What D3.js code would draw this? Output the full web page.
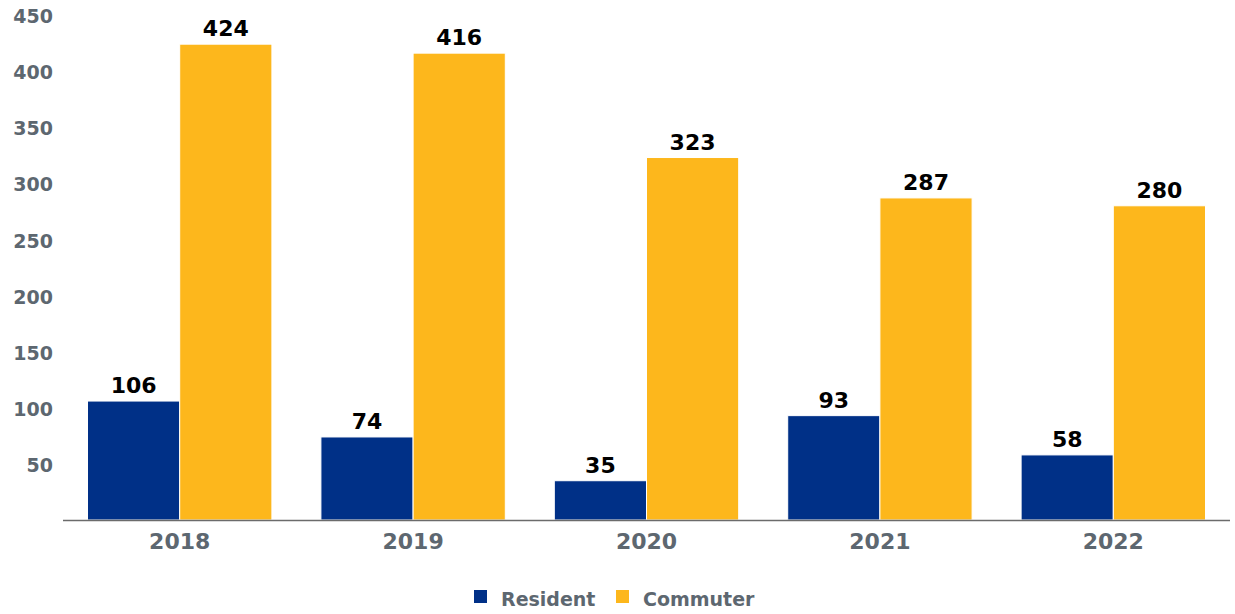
<!DOCTYPE html>
<html><head><meta charset="utf-8">
<script src="https://cdn.jsdelivr.net/npm/d3@7"></script>
<style>body{margin:0;background:#fff}svg{display:block}text{font-family:"DejaVu Sans",sans-serif;font-weight:bold}</style>
</head><body><svg id="c" width="1235" height="614"></svg>
<script>
const years = ["2018","2019","2020","2021","2022"];
const seriesNames = ["Resident","Commuter"];
const resident = [106,74,35,93,58];
const commuter = [424,416,323,287,280];
const yTicks = [50,100,150,200,250,300,350,400,450];
const colors = ["#003087","#FDB71C"];

const svg = d3.select("#c");
const plotLeft = 63, plotRight = 1230, plotTop = 15, base = 520;
const x0 = d3.scaleBand().domain(years).range([plotLeft,plotRight]).paddingInner(0.21).paddingOuter(0.105);
const x1 = d3.scaleBand().domain(seriesNames).range([0,x0.bandwidth()]);
const y = d3.scaleLinear().domain([0,450]).range([base,plotTop]);
const data = years.map((yr,i)=>({year:yr, vals:[resident[i],commuter[i]]}));

// y tick labels
svg.append("g").selectAll("text").data(yTicks).join("text")
  .attr("x",53).attr("y",d=>y(d)+1.5).attr("dy","0.35em").attr("text-anchor","end")
  .attr("fill","#5d6770").attr("font-size",19).text(d=>d);

const g = svg.append("g");
data.forEach(d=>{
  const gg = g.append("g").attr("transform",`translate(${x0(d.year)},0)`);
  gg.selectAll("rect").data(d.vals).join("rect")
    .attr("x",(v,j)=>x1(seriesNames[j])).attr("width",x1.bandwidth())
    .attr("y",v=>y(v)).attr("height",v=>base-y(v))
    .attr("fill",(v,j)=>colors[j]).attr("stroke","#fff").attr("stroke-width",1);
  gg.selectAll("text").data(d.vals).join("text")
    .attr("x",(v,j)=>x1(seriesNames[j])+x1.bandwidth()/2).attr("y",v=>y(v)-8)
    .attr("text-anchor","middle").attr("fill","#000").attr("font-size",22).text(v=>v);
});

// axis
svg.append("line").attr("x1",plotLeft).attr("x2",plotRight).attr("y1",base+0.5).attr("y2",base+0.5)
  .attr("stroke","#6b6b6b").attr("stroke-width",1.5);
svg.append("g").selectAll("text").data(years).join("text")
  .attr("x",d=>x0(d)+x0.bandwidth()/2).attr("y",549).attr("text-anchor","middle")
  .attr("fill","#5d6770").attr("font-size",22).text(d=>d);

// legend
const legX = [474,616];
const lg = svg.append("g");
seriesNames.forEach((s,i)=>{
  lg.append("rect").attr("x",legX[i]).attr("y",590).attr("width",13).attr("height",13).attr("fill",colors[i]);
  lg.append("text").attr("x",legX[i]+27).attr("y",606).attr("fill","#5d6770").attr("font-size",19).text(s);
});
</script></body></html>
